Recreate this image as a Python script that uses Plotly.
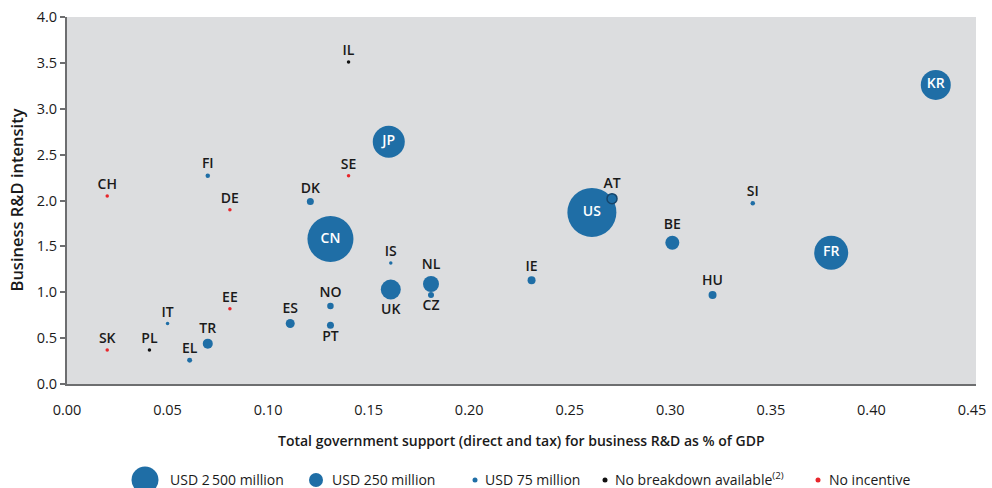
import math
import plotly.graph_objects as go

# ---- data ----
countries = ["US", "CN", "FR", "JP", "KR", "UK", "NL", "BE", "AT", "TR", "ES", "IE", "HU",
             "DK", "PT", "NO", "CZ", "EL", "SI", "FI", "IT", "IS"]
support_pct_gdp = [0.261, 0.131, 0.380, 0.160, 0.432, 0.161, 0.181, 0.301, 0.271, 0.070, 0.111,
                   0.231, 0.321, 0.121, 0.131, 0.131, 0.181, 0.061, 0.341, 0.070, 0.050, 0.161]
berd_intensity = [1.87, 1.58, 1.43, 2.64, 3.26, 1.03, 1.09, 1.54, 2.02, 0.44, 0.66,
                  1.13, 0.97, 1.99, 0.64, 0.85, 0.97, 0.26, 1.97, 2.27, 0.66, 1.32]
support_usd_million = [8880, 7825, 4275, 3790, 3330, 1480, 950, 725, 370, 370, 300,
                       237, 237, 181, 181, 156, 133, 92, 75, 75, 45, 45]

nobreak_countries = ["IL", "PL"]
nobreak_x = [0.140, 0.041]
nobreak_y = [3.51, 0.37]

noinc_countries = ["CH", "SE", "DE", "EE", "SK"]
noinc_x = [0.020, 0.140, 0.081, 0.081, 0.020]
noinc_y = [2.05, 2.27, 1.90, 0.82, 0.37]

legend_labels = ["USD 2\u2009500 million", "USD 250 million", "USD 75 million",
                 "No breakdown available<sup>(2)</sup>", "No incentive"]

# ---- styles ----
BLUE = "#1f6ea6"
RED = "#e8262b"
BLACK = "#111111"
AXIS = "#6d6e70"
TXT = "#1a1a1a"
FONT = "Open Sans"

inside = {"US", "CN", "FR", "JP", "KR"}
below = {"UK", "CZ", "PT"}

k = 0.52
diam = [k * math.sqrt(v) for v in support_usd_million]
textpos = ["middle center" if c in inside else ("bottom center" if c in below else "top center")
           for c in countries]
textcol = ["white" if c in inside else TXT for c in countries]
linew = [1.5 if c == "AT" else 0 for c in countries]

lab_font = dict(size=14, family=FONT, weight=600)

fig = go.Figure()
fig.add_trace(go.Scatter(
    x=support_pct_gdp, y=berd_intensity, mode="markers+text", text=countries,
    textposition=textpos, textfont=dict(color=textcol, **lab_font),
    marker=dict(size=diam, sizemode="diameter", color=BLUE, opacity=1,
                line=dict(width=linew, color="#16456b")),
    showlegend=False, hoverinfo="text", cliponaxis=False))
fig.add_trace(go.Scatter(
    x=nobreak_x, y=nobreak_y, mode="markers+text", text=nobreak_countries,
    textposition="top center", textfont=dict(color=TXT, **lab_font),
    marker=dict(size=3.5, color=BLACK), showlegend=False, cliponaxis=False))
fig.add_trace(go.Scatter(
    x=noinc_x, y=noinc_y, mode="markers+text", text=noinc_countries,
    textposition="top center", textfont=dict(color=TXT, **lab_font),
    marker=dict(size=3.5, color=RED), showlegend=False, cliponaxis=False))

# ---- layout ----
W, H = 992, 488
L, R, T, B = 67, 976, 17, 384

def px2paper_x(px):
    return (px - L) / (R - L)

shapes = []
annotations = []
legend_items = [  # (circle center px, diameter px, color, text start px)
    (145, 27, BLUE, 168),
    (316, 14, BLUE, 330),
    (475, 5, BLUE, 483),
    (605, 5, BLACK, 613),
    (818, 5, RED, 827),
]
leg_y = 479
for (cx, d, col, tx), lab in zip(legend_items, legend_labels):
    shapes.append(dict(type="circle", xref="paper", yref="paper", xsizemode="pixel",
                       ysizemode="pixel", xanchor=px2paper_x(cx), yanchor=0,
                       x0=-d / 2, x1=d / 2, y0=-(leg_y + 1 - B) - d / 2,
                       y1=-(leg_y + 1 - B) + d / 2,
                       fillcolor=col, line=dict(width=0)))
    annotations.append(dict(text=lab, xref="paper", yref="paper", x=px2paper_x(tx), y=0,
                            xanchor="left", yanchor="middle", yshift=-(leg_y - B),
                            showarrow=False, font=dict(size=14, color=TXT, family=FONT, weight=500)))

annotations.append(dict(text="Total government support (direct and tax) for business R&D as % of GDP",
                        xref="paper", yref="paper", x=0.5, y=0, xanchor="center", yanchor="middle",
                        yshift=-(440 - B), showarrow=False,
                        font=dict(size=14, color=TXT, family=FONT, weight=600)))
annotations.append(dict(text="Business R&D intensity", xref="paper", yref="paper", x=0, y=0.5,
                        xanchor="center", yanchor="middle", xshift=-(L - 16), textangle=-90,
                        showarrow=False, font=dict(size=16.5, color=TXT, family=FONT, weight=600)))

fig.update_layout(
    width=W, height=H,
    margin=dict(l=L, r=W - R, t=T, b=H - B, autoexpand=False),
    paper_bgcolor="white", plot_bgcolor="#dcdddf",
    font=dict(family=FONT, size=14, color=TXT),
    shapes=shapes, annotations=annotations,
    xaxis=dict(range=[0, 0.452], tickmode="linear", tick0=0, dtick=0.05, tickformat=".2f",
               showgrid=False, zeroline=False, showline=True, linecolor=AXIS, linewidth=2,
               ticks="", ticklabelstandoff=12, automargin=False, ticklabeloverflow="allow",
               tickfont=dict(size=14.5, color=TXT)),
    yaxis=dict(range=[0, 4], tickmode="linear", tick0=0, dtick=0.5, tickformat=".1f",
               showgrid=False, zeroline=False, showline=True, linecolor=AXIS, linewidth=2,
               ticks="outside", ticklen=5, tickcolor=AXIS, tickwidth=1.5, automargin=False,
               ticklabeloverflow="allow", tickfont=dict(size=14.5, color=TXT)),
)

fig.write_html("out.html", config={"displayModeBar": False},
               post_script="document.body.style.margin='0';document.body.style.overflow='hidden';")
